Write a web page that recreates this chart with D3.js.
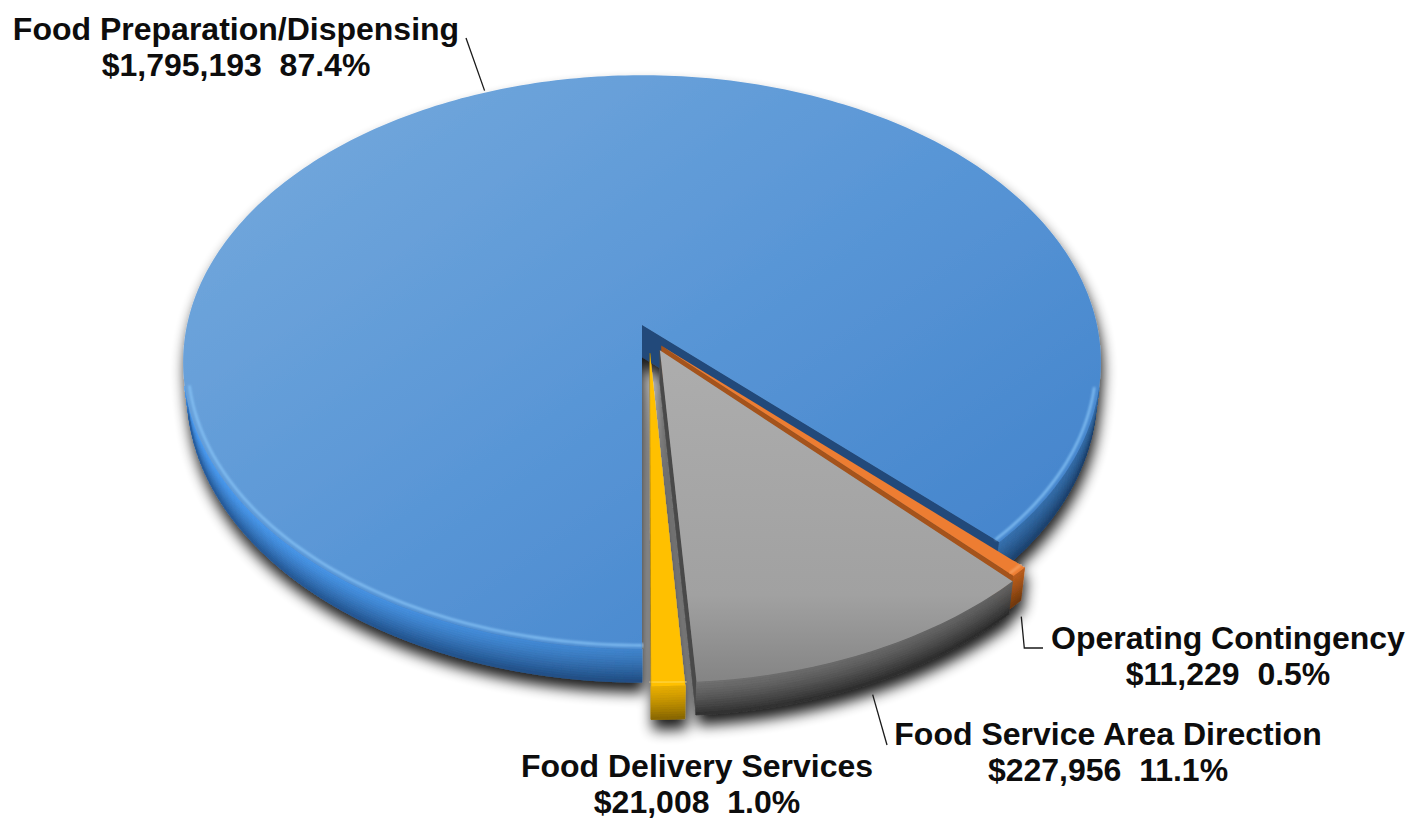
<!DOCTYPE html>
<html>
<head>
<meta charset="utf-8">
<script src="https://cdn.jsdelivr.net/npm/d3@7"></script>
<style>
  html, body { margin: 0; padding: 0; background: #ffffff; }
  svg { display: block; }
  .lbl { font-family: "Liberation Sans", Arial, sans-serif; font-weight: bold; font-size: 32px; fill: #0d0d0d; white-space: pre; }
</style>
</head>
<body>
<svg id="chart" width="1423" height="819"></svg>
<script>
// ---- data ----
const categories = ["Food Preparation/Dispensing", "Operating Contingency", "Food Service Area Direction", "Food Delivery Services"];
const amounts = [1795193, 11229, 227956, 21008];
const shareLabels = ["87.4%", "0.5%", "11.1%", "1.0%"];

// ---- styling ----
const topFills   = ["url(#topBlue)", "#ed7d31", "url(#topGray)", "#ffc000"];
const wallTop    = ["#4084cc", "#d86c20", "#727272", "#e8ae00"];
const wallBottom = ["#1f4b80", "#80400d", "#303030", "#866500"];
const radialFill = ["#23497a", "#a4531a", "#4a4a4a", "#a57c00"];
const rimGlow    = ["#8ac6f8", "#f8a86a", null, "#ffd850"];
const explodeDist = [0, 0.085, 0.097, 0.1];     // fraction of radius
const explodeDeg  = [0, 150, 156.4, 170];       // direction, clockwise from back
const labelAnchors = [[236, 40], [1228, 649], [1108, 745], [697, 777]];
const lineGap = 36;

// ---- 3D view ----
const V = { cx: 642, cy: 325, s: 455, sinP: 0.62, k: 0.165, h: 0.09 };
V.cosP = Math.sqrt(1 - V.sinP * V.sinP);
const cam = [0, V.sinP / V.k, V.cosP / V.k];

// X right, Y up, Z toward the viewer
function proj(X, Y, Z) {
  const w = 1 / (1 - V.k * (Y * V.sinP + Z * V.cosP));
  return [V.cx + V.s * X * w, V.cy - V.s * (Y * V.cosP - Z * V.sinP) * w];
}

const svg = d3.select("#chart");
const defs = svg.append("defs");

const gB = defs.append("linearGradient").attr("id", "topBlue")
  .attr("gradientUnits", "userSpaceOnUse").attr("x1", 420).attr("y1", 80).attr("x2", 820).attr("y2", 660);
gB.append("stop").attr("offset", 0).attr("stop-color", "#6fa5db");
gB.append("stop").attr("offset", 0.5).attr("stop-color", "#5996d6");
gB.append("stop").attr("offset", 1).attr("stop-color", "#4686cd");

const gG = defs.append("linearGradient").attr("id", "topGray")
  .attr("gradientUnits", "userSpaceOnUse").attr("x1", 0).attr("y1", 350).attr("x2", 0).attr("y2", 700);
gG.append("stop").attr("offset", 0).attr("stop-color", "#adadad");
gG.append("stop").attr("offset", 0.7).attr("stop-color", "#a1a1a1");
gG.append("stop").attr("offset", 1).attr("stop-color", "#7e7e7e");

const sh = defs.append("filter").attr("id", "shadow")
  .attr("x", "-10%").attr("y", "-10%").attr("width", "125%").attr("height", "135%");
sh.append("feGaussianBlur").attr("in", "SourceAlpha").attr("stdDeviation", 7).attr("result", "bl");
sh.append("feOffset").attr("in", "bl").attr("dx", 2).attr("dy", 10).attr("result", "of");
sh.append("feComponentTransfer").attr("in", "of").attr("result", "sd")
  .append("feFuncA").attr("type", "linear").attr("slope", 0.9);
const mg = sh.append("feMerge");
mg.append("feMergeNode").attr("in", "sd");
mg.append("feMergeNode").attr("in", "SourceGraphic");

const soft = defs.append("filter").attr("id", "soft").attr("x", "-5%").attr("y", "-5%").attr("width", "110%").attr("height", "110%");
soft.append("feGaussianBlur").attr("stdDeviation", 1.2);

// ---- slices ----
const pie = d3.pie().sort(null).value(d => d).startAngle(Math.PI).endAngle(3 * Math.PI);
const arcs = pie(amounts);
const slices = arcs.map((a, i) => {
  const ea = explodeDeg[i] * Math.PI / 180;
  return {
    i, a0: a.startAngle, a1: a.endAngle, mid: (a.startAngle + a.endAngle) / 2,
    ox: explodeDist[i] * Math.sin(ea), oz: -explodeDist[i] * Math.cos(ea)
  };
});

function pt(sl, ang, r, Y) {
  return proj(sl.ox + r * Math.sin(ang), Y, sl.oz - r * Math.cos(ang));
}
function facing(n, p) {
  return n[0] * (cam[0] - p[0]) + n[1] * (cam[1] - p[1]) + n[2] * (cam[2] - p[2]) > 0;
}
function shade(c, f) {
  const q = d3.rgb(c);
  return d3.rgb(Math.min(255, q.r * f), Math.min(255, q.g * f), Math.min(255, q.b * f)).formatHex();
}
const line = d3.line();

const pieG = svg.append("g").attr("filter", "url(#shadow)");
const bands = 14;
const stepRad = 1 * Math.PI / 180;

slices.forEach(sl => {
  const g = pieG.append("g").attr("class", "slice");
  const i = sl.i;
  const n = Math.max(2, Math.ceil((sl.a1 - sl.a0) / stepRad));
  const angs = d3.range(n + 1).map(j => sl.a0 + (sl.a1 - sl.a0) * j / n);

  // radial side walls
  [[sl.a0, -1], [sl.a1, 1]].forEach(([a, sgn]) => {
    const nrm = [sgn * Math.cos(a), 0, sgn * Math.sin(a)];
    const c = [sl.ox + 0.5 * Math.sin(a), -V.h / 2, sl.oz - 0.5 * Math.cos(a)];
    if (!facing(nrm, c)) return;
    const poly = [pt(sl, a, 0, 0), pt(sl, a, 1, 0), pt(sl, a, 1, -V.h), pt(sl, a, 0, -V.h)];
    g.append("path").attr("d", line(poly) + "Z").attr("fill", radialFill[i])
      .attr("stroke", radialFill[i]).attr("stroke-width", 0.6);
  });

  // outer curved wall, shaded top to bottom and by direction
  const interp = d3.interpolateRgb(wallTop[i], wallBottom[i]);
  const visible = [];
  for (let j = 0; j < n; j++) {
    const t0 = angs[j], t1 = angs[j + 1], tm = (t0 + t1) / 2;
    const nrm = [Math.sin(tm), 0, -Math.cos(tm)];
    const c = [sl.ox + Math.sin(tm), -V.h / 2, sl.oz - Math.cos(tm)];
    if (!facing(nrm, c)) continue;
    visible.push(j);
    const lf = 1 - 0.2 * Math.sin(tm);
    for (let b = 0; b < bands; b++) {
      const y0 = -V.h * b / bands, y1 = -V.h * (b + 1) / bands;
      const tt = (b + 0.5) / bands;
      const col = shade(interp(Math.pow(tt, 1.3)), lf);
      const poly = [pt(sl, t0, 1, y0), pt(sl, t1, 1, y0), pt(sl, t1, 1, y1), pt(sl, t0, 1, y1)];
      g.append("path").attr("d", line(poly) + "Z").attr("fill", col)
        .attr("stroke", col).attr("stroke-width", 0.8);
    }
  }

  // top face
  const top = [pt(sl, 0, 0, 0)].concat(angs.map(a => pt(sl, a, 1, 0)));
  g.append("path").attr("d", line(top) + "Z").attr("fill", topFills[i]);

  // bevel glint along the front rim
  if (visible.length && rimGlow[i]) {
    const runs = [];
    let cur = [visible[0]];
    for (let q = 1; q < visible.length; q++) {
      if (visible[q] === visible[q - 1] + 1) cur.push(visible[q]); else { runs.push(cur); cur = [visible[q]]; }
    }
    runs.push(cur);
    runs.forEach(r => {
      const pts = [];
      for (let q = r[0]; q <= r[r.length - 1] + 1; q++) pts.push(pt(sl, angs[q], 0.99, 0));
      g.append("path").attr("d", line(pts)).attr("fill", "none")
        .attr("stroke", rimGlow[i]).attr("stroke-width", 2.6).attr("stroke-opacity", 0.8)
        .attr("filter", "url(#soft)");
    });
  }
});

// ---- labels & leaders ----
const fmt = d3.format("$,");
const lab = svg.append("g");
categories.forEach((name, i) => {
  const [x, y] = labelAnchors[i];
  const t = lab.append("text").attr("class", "lbl").attr("text-anchor", "middle");
  t.append("tspan").attr("x", x).attr("y", y).text(name);
  t.append("tspan").attr("x", x).attr("y", y + lineGap).text(fmt(amounts[i]) + "  " + shareLabels[i]);
});

const leaderG = svg.append("g").attr("fill", "none").attr("stroke", "#1a1a1a").attr("stroke-width", 1.3);
// Food Preparation/Dispensing: from top rim at mid angle
{
  const s0 = pt(slices[0], slices[0].mid, 1, 0);
  leaderG.append("path").attr("d", line([[s0[0], s0[1] - 2], [466, 38]]));
}
// Operating Contingency: elbow from the bottom of its wall
{
  const s1 = pt(slices[1], slices[1].mid, 1, -V.h);
  leaderG.append("path").attr("d", line([[s1[0] + 6, s1[1] + 12], [s1[0] + 9, 648], [1043, 648]]));
}
// Food Service Area Direction
{
  const s2 = pt(slices[2], slices[2].mid, 1, -V.h);
  const end = [887, 745];
  const dx = end[0] - s2[0], dy = end[1] - s2[1], L = Math.hypot(dx, dy);
  leaderG.append("path").attr("d", line([[s2[0] + dx / L * 11, s2[1] + dy / L * 11], end]));
}
</script>
</body>
</html>
